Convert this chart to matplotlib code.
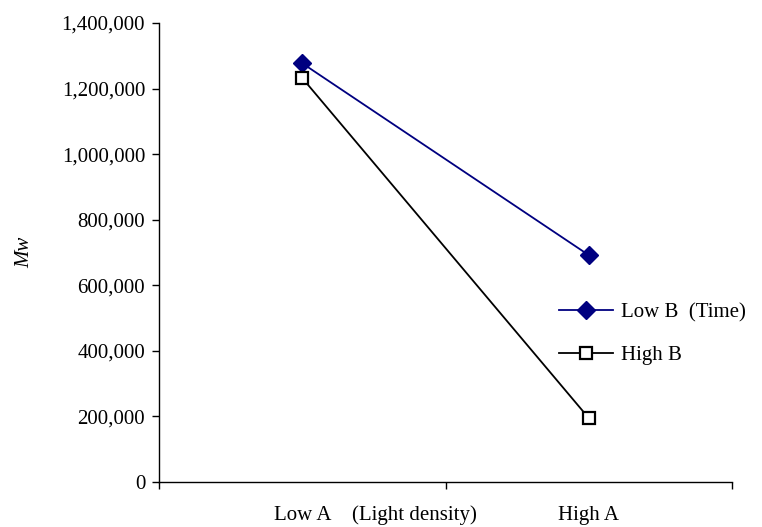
import matplotlib
matplotlib.use("Agg")
import matplotlib.pyplot as plt
import matplotlib.ticker as mticker

categories = ["Low A", "High A"]
low_b = [1277000, 692000]
high_b = [1232000, 195000]
legend_labels = ["Low B  (Time)", "High B"]

plt.rcParams['font.family'] = ['Liberation Serif', 'DejaVu Serif']

fig = plt.figure(figsize=(7.62, 5.27), dpi=100)
ax = fig.add_axes([0.2087, 0.0854, 0.9606 - 0.2087, 0.9564 - 0.0854])

x = list(range(len(categories)))
ax.plot(x, low_b, color='#000080', lw=1.3, marker='D', ms=9,
        mfc='#000080', mec='#000080', label=legend_labels[0])
ax.plot(x, high_b, color='black', lw=1.3, marker='s', ms=8,
        mfc='white', mec='black', mew=1.6, label=legend_labels[1])

ax.set_xlim(-0.5, len(categories) - 0.5)
ax.set_ylim(0, 1400000)
ax.yaxis.set_major_locator(mticker.MultipleLocator(200000))
ax.yaxis.set_major_formatter(mticker.StrMethodFormatter('{x:,.0f}'))

# category labels without ticks, boundary ticks as minor ticks
ax.set_xticks(x)
ax.set_xticklabels(categories)
ax.set_xticks([i - 0.5 for i in range(len(categories) + 1)], minor=True)
ax.tick_params(axis='x', which='major', length=0, pad=17, labelsize=15)
ax.tick_params(axis='x', which='minor', length=5, width=1, direction='out')
ax.tick_params(axis='y', length=5, width=1, direction='out', labelsize=15, pad=5)

for s in ['top', 'right']:
    ax.spines[s].set_visible(False)
for s in ['left', 'bottom']:
    ax.spines[s].set_linewidth(1)

ax.set_ylabel('Mw', style='italic', fontsize=15, labelpad=20)

# extra text next to the first category label
ax.text(0.39, -0.05, '(Light density)', transform=ax.get_xaxis_transform(),
        ha='center', va='top', fontsize=15)

ax.legend(loc='upper left', bbox_to_anchor=(0.683, 0.408), frameon=False,
          fontsize=15, handlelength=2.6, handletextpad=0.4,
          labelspacing=1.1, borderaxespad=0)

fig.savefig('out.png', dpi=100)
